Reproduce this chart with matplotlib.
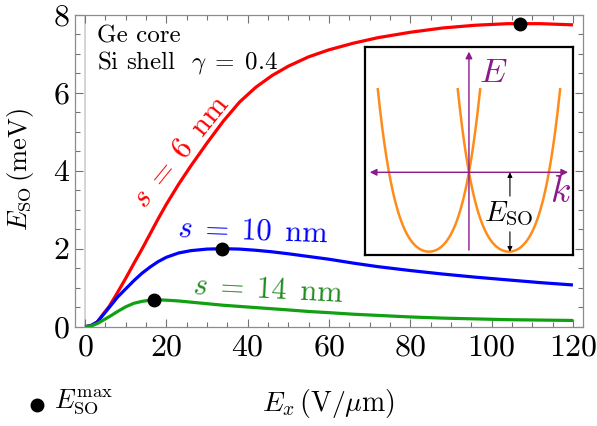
import numpy as np
import matplotlib
matplotlib.use("Agg")
import matplotlib.pyplot as plt
from matplotlib.ticker import MultipleLocator

plt.rcParams['mathtext.fontset'] = 'cm'
plt.rcParams['font.family'] = ['cmr10', 'DejaVu Serif']
plt.rcParams['axes.formatter.use_mathtext'] = True

# ---------------- data ----------------
Ex = [0, 1.5, 3, 4.5, 6, 8, 10, 12, 14, 16, 18, 20, 23, 26, 30, 34, 38, 42, 46,
      50, 55, 60, 66, 72, 80, 88, 96, 104, 112, 120]
E_s6 = [0, 0.03, 0.12, 0.33, 0.53, 0.88, 1.24, 1.62, 1.99, 2.38, 2.77, 3.14, 3.65,
        4.12, 4.71, 5.27, 5.76, 6.14, 6.44, 6.68, 6.92, 7.10, 7.27, 7.41, 7.55,
        7.66, 7.73, 7.77, 7.77, 7.74]
E_s10 = [0, 0.03, 0.12, 0.31, 0.50, 0.76, 0.97, 1.18, 1.37, 1.53, 1.67, 1.78, 1.89,
         1.95, 1.99, 2.00, 1.99, 1.96, 1.92, 1.87, 1.80, 1.73, 1.63, 1.54, 1.44,
         1.35, 1.27, 1.20, 1.13, 1.07]
E_s14 = [0, 0.02, 0.08, 0.17, 0.26, 0.39, 0.51, 0.60, 0.65, 0.68, 0.69, 0.68, 0.66,
         0.63, 0.59, 0.55, 0.52, 0.49, 0.46, 0.43, 0.39, 0.36, 0.32, 0.29, 0.25,
         0.22, 0.20, 0.18, 0.17, 0.16]
max_x = [107, 33.7, 17]
max_y = [7.77, 2.00, 0.69]

series_labels = [r'$s\;=\;6\ \,\mathrm{nm}$', r'$s\;=\;10\ \,\mathrm{nm}$',
                 r'$s\;=\;14\ \,\mathrm{nm}$']
x_ticks = [0, 20, 40, 60, 80, 100, 120]
y_ticks = [0, 2, 4, 6, 8]

# inset schematic: band minima at k = -1, +1, depth E_SO = 1, slight quartic stiffening
k_min = [-1.0, 1.0]
E_depth = 1.0
quartic = 0.39
half_width = 1.28

# ---------------- figure ----------------
W, H = 597, 426
fig = plt.figure(figsize=(W / 100, H / 100), dpi=100)

def fx(px):
    return px / W

def fy(py):
    return 1 - py / H

ax_l, ax_r, ax_t, ax_b = 75.3, 582.7, 14.7, 326.7
ax = fig.add_axes([fx(ax_l), fy(ax_b), (ax_r - ax_l) / W, (ax_b - ax_t) / H])

red, blue, green = '#ff0000', '#0000ff', '#11a011'
ax.axvline(0, color='0.82', lw=1.3, zorder=1)
ax.plot(Ex, E_s6, color=red, lw=2.3, zorder=3, solid_capstyle='butt')
ax.plot(Ex, E_s10, color=blue, lw=2.3, zorder=3, solid_capstyle='butt')
ax.plot(Ex, E_s14, color=green, lw=2.3, zorder=3, solid_capstyle='butt')
ax.plot(max_x, max_y, 'o', color='black', ms=9, zorder=5)

ax.set_xlim(-2.4, 122.4)
ax.set_ylim(0, 8)
ax.set_xticks(x_ticks)
ax.set_yticks(y_ticks)
ax.xaxis.set_minor_locator(MultipleLocator(5))
ax.yaxis.set_minor_locator(MultipleLocator(0.5))
ax.tick_params(which='both', direction='in', top=True, right=True, color='0.45',
               width=0.8, labelsize=23)
ax.tick_params(which='major', length=6)
ax.tick_params(which='minor', length=3.5)
ax.tick_params(axis='x', pad=5)
ax.tick_params(axis='y', pad=4)
for sp in ax.spines.values():
    sp.set_color('0.55')
    sp.set_linewidth(0.9)

# curve labels
ax.text(23.5, 4.5, series_labels[0], color=red, fontsize=22, rotation=51,
        ha='center', va='center')
ax.text(41.3, 2.44, series_labels[1], color=blue, fontsize=22, rotation=-2,
        ha='center', va='center')
ax.text(45.0, 0.94, series_labels[2], color='#228b22', fontsize=22, rotation=-3,
        ha='center', va='center')

fig.text(fx(97), fy(36), 'Ge core', fontsize=18, ha='left', va='center')
fig.text(fx(97), fy(63), r'Si shell  $\gamma\;=\;0.4$', fontsize=18, ha='left',
         va='center')

# axis labels
fig.text(fx(20), fy(170), r'$E_{\mathrm{SO}}\,(\mathrm{meV})$', fontsize=19,
         rotation=90, ha='center', va='center')
fig.text(fx(328), fy(404), r'$E_x\,(\mathrm{V}/\mu\mathrm{m})$', fontsize=20,
         ha='center', va='center')

# legend for the maxima
fig.lines.append(plt.Line2D([fx(37)], [fy(405)], marker='o', color='black', ms=9,
                            transform=fig.transFigure))
fig.text(fx(54), fy(402), r'$E_{\mathrm{SO}}^{\max}$', fontsize=19,
         ha='left', va='center')

# ---------------- inset ----------------
in_l, in_r, in_t, in_b = 365, 573.3, 46.7, 255
axi = fig.add_axes([fx(in_l), fy(in_b), (in_r - in_l) / W, (in_b - in_t) / H])
axi.set_xlim(-2.6, 2.61)
axi.set_ylim(-1.042, 1.582)
axi.set_xticks([])
axi.set_yticks([])
for sp in axi.spines.values():
    sp.set_color('black')
    sp.set_linewidth(1.6)
axi.set_zorder(6)

purple = '#8b1a8b'
orange = '#ff8c1a'
for km in k_min:
    u = np.linspace(-half_width, half_width, 300)
    band = u ** 2 - E_depth + quartic * (u ** 4 - u ** 2)
    axi.plot(u + km, band, color=orange, lw=1.8, zorder=2)

axi.annotate('', xy=(2.48, 0), xytext=(-2.48, 0),
             arrowprops=dict(arrowstyle='<|-|>', color=purple, lw=1.0,
                             mutation_scale=10, shrinkA=0, shrinkB=0), zorder=3)
axi.annotate('', xy=(0, 1.52), xytext=(0, -0.98),
             arrowprops=dict(arrowstyle='-|>', color=purple, lw=1.0,
                             mutation_scale=10, shrinkA=0, shrinkB=0), zorder=3)
axi.text(0.62, 1.25, r'$E$', color=purple, fontsize=25, ha='center', va='center')
axi.text(2.3, -0.25, r'$k$', color=purple, fontsize=27, ha='center', va='center')

# E_SO double arrow
axi.annotate('', xy=(1.025, 0), xytext=(1.025, -0.3),
             arrowprops=dict(arrowstyle='-|>', color='black', lw=0.8,
                             mutation_scale=7, shrinkA=0, shrinkB=0), zorder=4)
axi.annotate('', xy=(1.025, -E_depth), xytext=(1.025, -0.75),
             arrowprops=dict(arrowstyle='-|>', color='black', lw=0.8,
                             mutation_scale=7, shrinkA=0, shrinkB=0), zorder=4)
axi.text(1.0, -0.52, r'$E_{\mathrm{SO}}$', color='black', fontsize=21,
         ha='center', va='center', zorder=5)

fig.savefig('out.png', dpi=100)
